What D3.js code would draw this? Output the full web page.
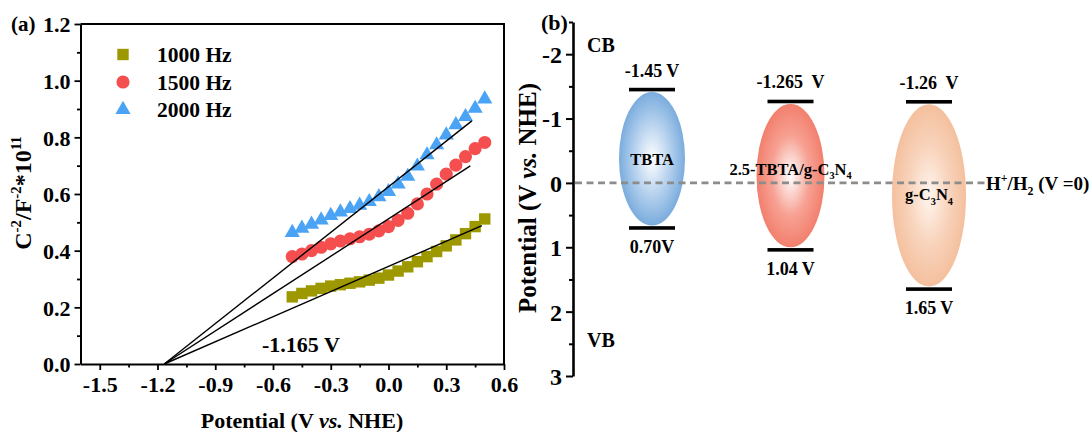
<!DOCTYPE html>
<html>
<head>
<meta charset="utf-8">
<script src="https://cdn.jsdelivr.net/npm/d3@7"></script>
<style>
  html, body { margin: 0; padding: 0; background: #fff; }
  svg { display: block; font-family: "Liberation Serif", "Times New Roman", serif; font-weight: bold; }
  text { white-space: pre; }
</style>
</head>
<body>
<svg id="fig" width="1091" height="432"></svg>
<script>
// ---------- (a) Mott–Schottky data ----------
const potential = [-0.50, -0.45, -0.40, -0.35, -0.30, -0.25, -0.20, -0.15, -0.10, -0.05, 0.00,
                   0.05, 0.10, 0.15, 0.20, 0.25, 0.30, 0.35, 0.40, 0.45, 0.50];
const freqLabels = ["1000 Hz", "1500 Hz", "2000 Hz"];
const ms1000 = [0.237, 0.249, 0.258, 0.267, 0.275, 0.280, 0.285, 0.290, 0.296, 0.303, 0.314,
                0.328, 0.343, 0.361, 0.379, 0.397, 0.417, 0.438, 0.460, 0.485, 0.512];
const ms1500 = [0.379, 0.388, 0.400, 0.412, 0.424, 0.434, 0.442, 0.449, 0.458, 0.470, 0.485,
                0.507, 0.532, 0.565, 0.600, 0.635, 0.670, 0.702, 0.732, 0.760, 0.782];
const ms2000 = [0.464, 0.479, 0.493, 0.508, 0.524, 0.536, 0.548, 0.560, 0.573, 0.590, 0.608,
                0.635, 0.662, 0.698, 0.738, 0.773, 0.808, 0.844, 0.873, 0.902, 0.935];
// linear fits: all extrapolate to the flat-band potential
const flatBand = -1.165;
const fitEndX = [0.485, 0.425, 0.433];
const fitEndY = [0.488, 0.699, 0.858];
const xTicksA = [-1.5, -1.2, -0.9, -0.6, -0.3, 0.0, 0.3, 0.6];
const yTicksA = [0.0, 0.2, 0.4, 0.6, 0.8, 1.0, 1.2];

// ---------- (b) band positions ----------
const materials = ["TBTA", "2.5-TBTA/g-C_{3}N_{4}", "g-C_{3}N_{4}"];
const cbLevels = [-1.45, -1.265, -1.26];
const vbLevels = [0.70, 1.04, 1.65];
const cbText = ["-1.45 V", "-1.265  V", "-1.26  V"];
const vbText = ["0.70V", "1.04 V", "1.65 V"];
const yTicksB = [-2, -1, 0, 1, 2, 3];

// ---------- styles ----------
const seriesColors = ["#9d9800", "#f44e4e", "#4aa3f5"];
const seriesShapes = [d3.symbolSquare, d3.symbolCircle, d3.symbolTriangle];
const seriesSizes = [130, 135, 100];
const bandFill = [
  ["#ffffff", "#b5d1ee", "#7aacdd"],
  ["#ffffff", "#f7a294", "#f27f6d"],
  ["#fff6ef", "#f8d3bb", "#f4c09e"]
];
const bandRx = [33, 34, 37];
const labelDy = [6, -1, 5];

const svg = d3.select("#fig");

// text with ^{..} superscripts and _{..} subscripts
function rich(sel, str, fs) {
  const re = /(\^|_)\{([^}]*)\}/g;
  let last = 0, cur = 0, m;
  const put = (t, target, size) => {
    const ts = sel.append("tspan").attr("dy", target - cur).text(t);
    if (size) ts.attr("font-size", size);
    cur = target;
  };
  while ((m = re.exec(str))) {
    if (m.index > last) put(str.slice(last, m.index), 0);
    put(m[2], m[1] === "^" ? -0.4 * fs : 0.25 * fs, fs * 0.62);
    last = re.lastIndex;
  }
  if (last < str.length) put(str.slice(last), 0);
  return sel;
}

// ================= Panel (a) =================
const xA = d3.scaleLinear().domain([-1.6, 0.6]).range([80.5, 504]);
const yA = d3.scaleLinear().domain([0, 1.2]).range([364, 24]);
const gA = svg.append("g");

// frame (top & right)
gA.append("path")
  .attr("d", `M${xA.range()[0]},${yA.range()[1]}H${xA.range()[1]}V${yA.range()[0]}`)
  .attr("fill", "none").attr("stroke", "#000").attr("stroke-width", 2);

const minorX = d3.range(-1.65, 0.61, 0.15).filter(v => v > -1.6 && !xTicksA.some(t => Math.abs(t - v) < 1e-6));
const minorY = d3.range(0.1, 1.2, 0.2);

const axXm = gA.append("g").attr("transform", `translate(0,${yA(0)})`)
  .call(d3.axisBottom(xA).tickValues(minorX).tickSize(3.5).tickSizeOuter(0).tickFormat(""));
axXm.select(".domain").remove();
const axX = gA.append("g").attr("transform", `translate(0,${yA(0)})`)
  .call(d3.axisBottom(xA).tickValues(xTicksA).tickSize(6).tickSizeOuter(0).tickFormat(d => d.toFixed(1)));
axX.selectAll("text").attr("y", 28).attr("dy", 0).attr("font-size", 22).attr("fill", "#000");

const axYm = gA.append("g").attr("transform", `translate(${xA.range()[0]},0)`)
  .call(d3.axisLeft(yA).tickValues(minorY).tickSize(3.5).tickSizeOuter(0).tickFormat(""));
axYm.select(".domain").remove();
const axY = gA.append("g").attr("transform", `translate(${xA.range()[0]},0)`)
  .call(d3.axisLeft(yA).tickValues(yTicksA).tickSize(6).tickSizeOuter(0).tickFormat(d => d.toFixed(1)));
axY.selectAll("text").attr("x", -10).attr("dy", "0.35em").attr("font-size", 22).attr("fill", "#000");

gA.selectAll(".domain").attr("stroke-width", 2);
gA.selectAll(".tick line").attr("stroke-width", 1.8);
gA.selectAll("g").attr("font-family", null).attr("font-size", null);

// markers
const seriesA = [ms1000, ms1500, ms2000];
seriesA.forEach((vals, i) => {
  gA.append("g").selectAll("path")
    .data(vals.map((v, k) => [potential[k], v]))
    .join("path")
    .attr("transform", d => `translate(${xA(d[0])},${yA(d[1])})`)
    .attr("d", d3.symbol(seriesShapes[i], seriesSizes[i]))
    .attr("fill", seriesColors[i]);
});

// fitted lines
const line = d3.line().x(d => xA(d[0])).y(d => yA(d[1]));
fitEndX.forEach((xe, i) => {
  gA.append("path")
    .attr("d", line([[flatBand, 0], [xe, fitEndY[i]]]))
    .attr("fill", "none").attr("stroke", "#000").attr("stroke-width", 1.4);
});

// legend
freqLabels.forEach((lab, i) => {
  const y = 54.5 + i * 27.5;
  gA.append("path").attr("transform", `translate(123,${y})`)
    .attr("d", d3.symbol(seriesShapes[i], seriesSizes[i])).attr("fill", seriesColors[i]);
  gA.append("text").attr("x", 157).attr("y", y + 7.5).attr("font-size", 21.5).text(lab);
});

// flat-band annotation
gA.append("text").attr("x", 262).attr("y", 351.5).attr("font-size", 22).text(`${flatBand.toFixed(3)} V`);

// titles
const xtA = gA.append("text").attr("x", 302).attr("y", 428).attr("text-anchor", "middle").attr("font-size", 22);
xtA.append("tspan").text("Potential (V ");
xtA.append("tspan").attr("font-style", "italic").text("vs.");
xtA.append("tspan").text(" NHE)");

rich(gA.append("text").attr("transform", "translate(31,193) rotate(-90)")
  .attr("text-anchor", "middle").attr("font-size", 24), "C^{-2}/F^{-2}*10^{11}", 24);

gA.append("text").attr("x", 11).attr("y", 31).attr("font-size", 21).text("(a)");

// ================= Panel (b) =================
const xB = d3.scalePoint().domain(materials).range([652, 929]);
const yB = d3.scaleLinear().domain([-2.5, 3]).range([22, 376]);
const gB = svg.append("g");

const defs = svg.append("defs");
materials.forEach((m, i) => {
  const gr = defs.append("radialGradient").attr("id", "band" + i)
    .attr("cx", "50%").attr("cy", "50%").attr("r", "50%");
  gr.append("stop").attr("offset", "0%").attr("stop-color", bandFill[i][0]);
  gr.append("stop").attr("offset", "55%").attr("stop-color", bandFill[i][1]);
  gr.append("stop").attr("offset", "100%").attr("stop-color", bandFill[i][2]);
});

const minorB = [-2.5, -1.5, -0.5, 0.5, 1.5, 2.5];
const axBm = gB.append("g").attr("transform", "translate(573,0)")
  .call(d3.axisLeft(yB).tickValues(minorB).tickSize(4).tickSizeOuter(0).tickFormat(""));
axBm.select(".domain").remove();
const axB = gB.append("g").attr("transform", "translate(573,0)")
  .call(d3.axisLeft(yB).tickValues(yTicksB).tickSize(7).tickSizeOuter(0).tickFormat(d => String(d)));
axB.select(".domain").attr("stroke-width", 2.6);
axB.selectAll("text").attr("x", -11).attr("dy", "0.35em").attr("font-size", 24).attr("fill", "#000");
gB.selectAll(".tick line").attr("stroke-width", 2);
gB.selectAll("g").attr("font-family", null).attr("font-size", null);

// band ellipses
materials.forEach((m, i) => {
  const top = yB(cbLevels[i]), bot = yB(vbLevels[i]);
  gB.append("ellipse")
    .attr("cx", xB(m)).attr("cy", (top + bot) / 2)
    .attr("rx", bandRx[i]).attr("ry", (bot - top) / 2 - 2.5)
    .attr("fill", `url(#band${i})`);
});

// H+/H2 reference line
gB.append("line").attr("x1", 575).attr("x2", 985).attr("y1", yB(0)).attr("y2", yB(0))
  .attr("stroke", "#8c8c8c").attr("stroke-width", 2.6).attr("stroke-dasharray", "7,4.5");
rich(gB.append("text").attr("x", 986).attr("y", yB(0) + 7).attr("font-size", 19), "H^{+}/H_{2} (V =0)", 19);

// band edges and labels
materials.forEach((m, i) => {
  const cx = xB(m), top = yB(cbLevels[i]), bot = yB(vbLevels[i]);
  [top, bot].forEach(y => gB.append("rect").attr("x", cx - 23).attr("y", y - 1.8)
    .attr("width", 46).attr("height", 3.6).attr("fill", "#000"));
  gB.append("text").attr("x", cx).attr("y", top - 13).attr("text-anchor", "middle")
    .attr("font-size", 18).text(cbText[i]);
  gB.append("text").attr("x", cx).attr("y", bot + 25).attr("text-anchor", "middle")
    .attr("font-size", 18).text(vbText[i]);
  rich(gB.append("text").attr("x", cx).attr("y", (top + bot) / 2 + labelDy[i])
    .attr("text-anchor", "middle").attr("font-size", 16.5), m, 16.5);
});

gB.append("text").attr("x", 587).attr("y", 52).attr("font-size", 20).text("CB");
gB.append("text").attr("x", 587).attr("y", 347).attr("font-size", 20).text("VB");

const ytB = gB.append("text").attr("transform", "translate(536,198) rotate(-90)")
  .attr("text-anchor", "middle").attr("font-size", 25);
ytB.append("tspan").text("Potential (V ");
ytB.append("tspan").attr("font-style", "italic").text("vs.");
ytB.append("tspan").text(" NHE)");

gB.append("text").attr("x", 541).attr("y", 30).attr("font-size", 22).text("(b)");
</script>
</body>
</html>
